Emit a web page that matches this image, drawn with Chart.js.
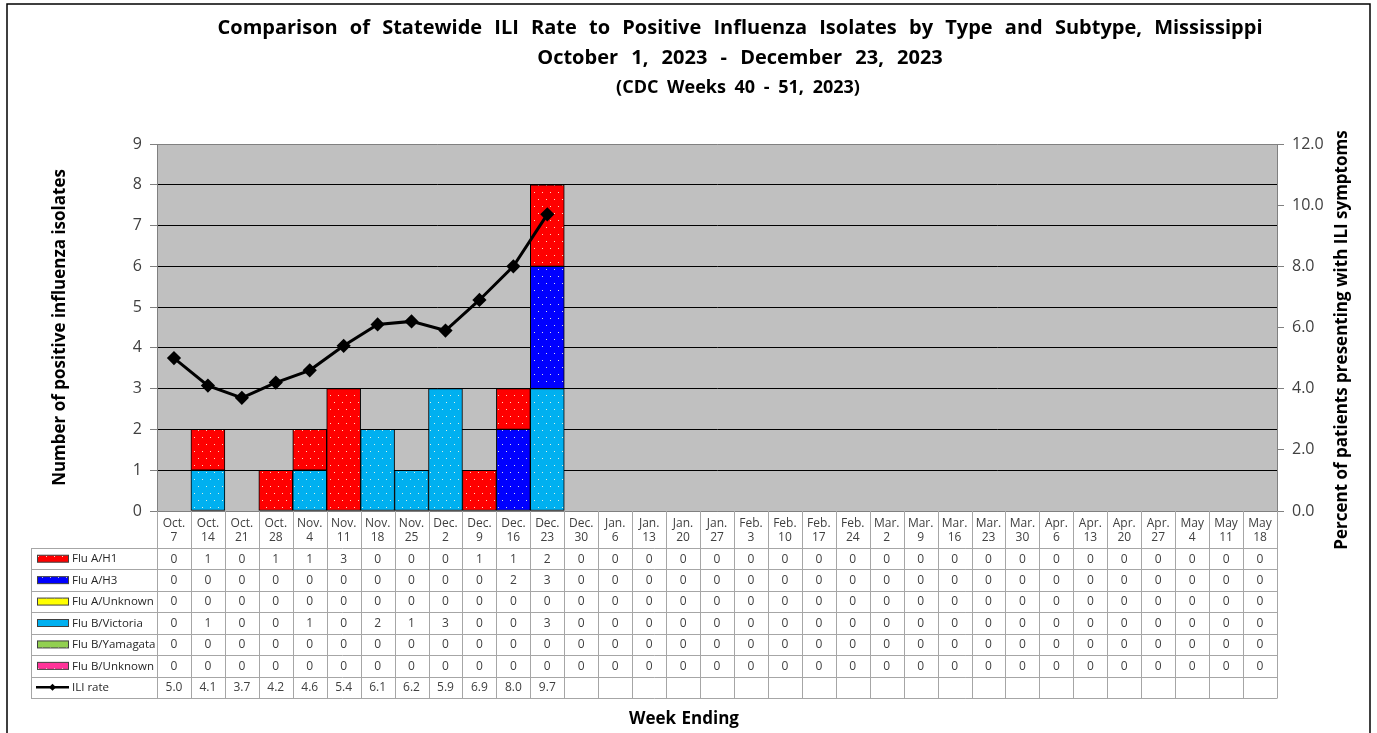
<!DOCTYPE html>
<html>
<head>
<meta charset="utf-8">
<script src="https://cdn.jsdelivr.net/npm/chart.js@4.4.1/dist/chart.umd.min.js"></script>
<style>
  html, body { margin: 0; padding: 0; background: #fff; }
  canvas { display: block; }
</style>
</head>
<body>
<canvas id="fluChart" width="1377" height="733"></canvas>
<script>
/* DATA */
const weeks = [
  ["Oct.","7"],["Oct.","14"],["Oct.","21"],["Oct.","28"],
  ["Nov.","4"],["Nov.","11"],["Nov.","18"],["Nov.","25"],
  ["Dec.","2"],["Dec.","9"],["Dec.","16"],["Dec.","23"],["Dec.","30"],
  ["Jan.","6"],["Jan.","13"],["Jan.","20"],["Jan.","27"],
  ["Feb.","3"],["Feb.","10"],["Feb.","17"],["Feb.","24"],
  ["Mar.","2"],["Mar.","9"],["Mar.","16"],["Mar.","23"],["Mar.","30"],
  ["Apr.","6"],["Apr.","13"],["Apr.","20"],["Apr.","27"],
  ["May","4"],["May","11"],["May","18"]
];

const fluAH1       = [0,1,0,1,1,3,0,0,0,1,1,2,0,0,0,0,0,0,0,0,0,0,0,0,0,0,0,0,0,0,0,0,0];
const fluAH3       = [0,0,0,0,0,0,0,0,0,0,2,3,0,0,0,0,0,0,0,0,0,0,0,0,0,0,0,0,0,0,0,0,0];
const fluAUnknown  = [0,0,0,0,0,0,0,0,0,0,0,0,0,0,0,0,0,0,0,0,0,0,0,0,0,0,0,0,0,0,0,0,0];
const fluBVictoria = [0,1,0,0,1,0,2,1,3,0,0,3,0,0,0,0,0,0,0,0,0,0,0,0,0,0,0,0,0,0,0,0,0];
const fluBYamagata = [0,0,0,0,0,0,0,0,0,0,0,0,0,0,0,0,0,0,0,0,0,0,0,0,0,0,0,0,0,0,0,0,0];
const fluBUnknown  = [0,0,0,0,0,0,0,0,0,0,0,0,0,0,0,0,0,0,0,0,0,0,0,0,0,0,0,0,0,0,0,0,0];
const iliRate = [5.0,4.1,3.7,4.2,4.6,5.4,6.1,6.2,5.9,6.9,8.0,9.7,
  null,null,null,null,null,null,null,null,null,null,null,null,null,null,null,null,null,null,null,null,null];

const seriesNames  = ["Flu A/H1","Flu A/H3","Flu A/Unknown","Flu B/Victoria","Flu B/Yamagata","Flu B/Unknown"];
const seriesValues = [fluAH1, fluAH3, fluAUnknown, fluBVictoria, fluBYamagata, fluBUnknown];
const seriesColors = ["#ff0000","#0000ff","#ffff00","#00b0f0","#92d050","#ff3399"];

const leftTicks  = [0,1,2,3,4,5,6,7,8,9];
const rightTicks = [0,2,4,6,8,10,12];

const FONT = "'Open Sans', 'Noto Sans', sans-serif";

const canvas = document.getElementById("fluChart");
const ctx = canvas.getContext("2d");

/* PATTERN */
function dotted(color) {
  const c = document.createElement("canvas");
  c.width = 8; c.height = 14;
  const g = c.getContext("2d");
  g.fillStyle = color;
  g.fillRect(0, 0, 8, 14);
  g.fillStyle = "rgba(255,255,225,0.85)";
  g.fillRect(2, 3, 1, 1);
  g.fillRect(6, 10, 1, 1);
  return ctx.createPattern(c, "repeat");
}
const patterns = seriesColors.map(dotted);

/* DATASETS: bottom of stack is last table row */
const barSets = seriesNames.map((name, i) => ({
  type: "bar",
  label: name,
  data: seriesValues[i].map(v => v === 0 ? null : v),
  backgroundColor: patterns[i],
  borderColor: "#000",
  borderWidth: 1,
  borderSkipped: false,
  categoryPercentage: 1,
  barPercentage: 1,
  yAxisID: "y",
  stack: "flu",
  order: 1
})).reverse();

const lineSet = {
  type: "line",
  label: "ILI rate",
  data: iliRate,
  borderColor: "#000",
  borderWidth: 3,
  pointStyle: "rectRot",
  pointRadius: 5,
  pointBackgroundColor: "#000",
  pointBorderColor: "#000",
  tension: 0,
  yAxisID: "y1",
  order: 0
};

/* TABLE + FRAME + TEXT */
const ROW_TOP = 548;
const ROW_H = 21.43;

function spacedText(c, text, x, y, spacing) {
  c.wordSpacing = spacing + "px";
  c.fillText(text, x, y);
  c.wordSpacing = "0px";
}

const tablePlugin = {
  id: "tablePlugin",
  beforeDraw(chart) {
    const c = chart.ctx, a = chart.chartArea;
    c.save();
    c.fillStyle = "#fff";
    c.fillRect(0, 0, chart.width, chart.height);
    c.fillStyle = "#c0c0c0";
    c.fillRect(a.left, a.top, a.right - a.left, a.bottom - a.top);
    c.restore();
  },
  afterDraw(chart) {
    const c = chart.ctx, a = chart.chartArea, x = chart.scales.x;
    const half = (x.getPixelForValue(1) - x.getPixelForValue(0)) / 2;
    const rows = seriesNames.length + 1;
    const bottom = ROW_TOP + rows * ROW_H;
    const legendLeft = 31;

    c.save();
    // frame
    c.strokeStyle = "#000";
    c.lineWidth = 1.5;
    c.strokeRect(7, 4, 1363, 760);

    // table grid
    c.strokeStyle = "#a6a6a6";
    c.lineWidth = 1;
    for (let i = 0; i <= weeks.length; i++) {
      const px = Math.round(x.getPixelForValue(i) - half) + 0.5;
      c.beginPath();
      c.moveTo(px, a.bottom);
      c.lineTo(px, bottom);
      c.stroke();
    }
    c.beginPath();
    c.moveTo(legendLeft + 0.5, ROW_TOP);
    c.lineTo(legendLeft + 0.5, bottom);
    c.stroke();
    for (let r = 0; r <= rows; r++) {
      const py = Math.round(ROW_TOP + r * ROW_H) + 0.5;
      c.beginPath();
      c.moveTo(legendLeft, py);
      c.lineTo(Math.round(x.getPixelForValue(weeks.length - 1) + half) + 0.5, py);
      c.stroke();
    }

    // legend cells + values
    c.textBaseline = "middle";
    for (let r = 0; r < rows; r++) {
      const cy = ROW_TOP + r * ROW_H + ROW_H / 2;
      if (r < seriesNames.length) {
        c.fillStyle = patterns[r];
        c.fillRect(37, cy - 3.5, 32, 7);
        c.strokeStyle = "#404040";
        c.strokeRect(37.5, cy - 3.5, 31, 7);
      } else {
        c.strokeStyle = "#000";
        c.lineWidth = 2.5;
        c.beginPath();
        c.moveTo(36, cy);
        c.lineTo(69, cy);
        c.stroke();
        c.fillStyle = "#000";
        c.beginPath();
        c.moveTo(52.5, cy - 3.5);
        c.lineTo(56, cy);
        c.lineTo(52.5, cy + 3.5);
        c.lineTo(49, cy);
        c.closePath();
        c.fill();
        c.lineWidth = 1;
      }
      c.font = "11.5px " + FONT;
      c.fillStyle = "#262626";
      c.textAlign = "left";
      c.fillText(r < seriesNames.length ? seriesNames[r] : lineSet.label, 72, cy + 0.5);

      c.font = "12px " + FONT;
      c.fillStyle = "#404040";
      c.textAlign = "center";
      for (let i = 0; i < weeks.length; i++) {
        let v;
        if (r < seriesNames.length) v = String(seriesValues[r][i]);
        else v = iliRate[i] == null ? "" : iliRate[i].toFixed(1);
        c.fillText(v, x.getPixelForValue(i), cy + 0.5);
      }
    }

    // titles
    c.fillStyle = "#000";
    c.textAlign = "center";
    c.font = "bold 20px " + FONT;
    spacedText(c, "Comparison of Statewide ILI Rate to Positive Influenza Isolates by Type and Subtype, Mississippi", 740, 28, 7);
    spacedText(c, "October 1, 2023 - December 23, 2023", 740, 58, 8);
    c.font = "bold 18px " + FONT;
    spacedText(c, "(CDC Weeks 40 - 51, 2023)", 738, 88, 4);
    c.font = "bold 17px " + FONT;
    spacedText(c, "Week Ending", 684, 719, 1);

    // right axis title, reading upwards
    c.font = "bold 17px " + FONT;
    c.translate(1342, 340);
    c.rotate(-Math.PI / 2);
    c.fillText("Percent of patients presenting with ILI symptoms", 0, 0);
    c.restore();
  }
};

/* CHART */
new Chart(ctx, {
  data: {
    labels: weeks,
    datasets: [lineSet, ...barSets]
  },
  options: {
    responsive: false,
    animation: false,
    layout: { padding: { top: 144, left: 0, right: 0, bottom: 0 } },
    plugins: {
      legend: { display: false },
      title: { display: false },
      tooltip: { enabled: false }
    },
    scales: {
      x: {
        stacked: true,
        offset: true,
        afterFit(s) { s.height = 733 - 511; },
        grid: { display: false, drawTicks: false },
        border: { display: true, color: "#808080" },
        ticks: {
          autoSkip: false,
          maxRotation: 0,
          padding: 6,
          color: "#404040",
          font: { family: FONT, size: 12, lineHeight: 1.15 }
        }
      },
      y: {
        stacked: true,
        position: "left",
        min: 0,
        max: 9,
        afterFit(s) { s.width = 157; },
        afterBuildTicks(s) { s.ticks = leftTicks.map(v => ({ value: v })); },
        grid: {
          color: c => (c.tick && (c.tick.value === 0 || c.tick.value === 9)) ? "#808080" : "#000",
          tickColor: "#808080",
          tickLength: 7
        },
        border: { display: true, color: "#808080" },
        ticks: {
          padding: 8,
          color: "#404040",
          font: { family: FONT, size: 16 }
        },
        title: {
          display: true,
          text: "Number of positive influenza isolates",
          color: "#000",
          font: { family: FONT, size: 17, weight: "bold" },
          padding: { top: 50, bottom: 0 }
        }
      },
      y1: {
        position: "right",
        min: 0,
        max: 12,
        afterFit(s) { s.width = 1377 - 1277; },
        afterBuildTicks(s) { s.ticks = rightTicks.map(v => ({ value: v })); },
        grid: {
          drawOnChartArea: false,
          color: "#808080",
          tickLength: 7
        },
        border: { display: true, color: "#808080" },
        ticks: {
          padding: 8,
          color: "#404040",
          font: { family: FONT, size: 16 },
          callback: v => Number(v).toFixed(1)
        }
      }
    }
  },
  plugins: [tablePlugin]
});
</script>
</body>
</html>
